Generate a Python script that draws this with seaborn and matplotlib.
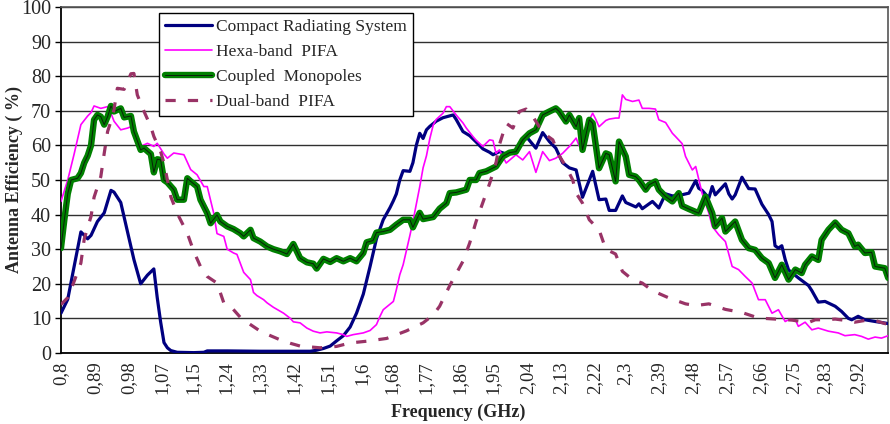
import matplotlib
matplotlib.use("Agg")
import matplotlib.pyplot as plt
import matplotlib.patheffects as pe
import seaborn as sns

# Measured antenna efficiency (%) versus frequency (GHz)
compact_f = [0.800, 0.818, 0.835, 0.853, 0.871, 0.880, 0.897, 0.915, 0.933, 0.941,
             0.959, 0.977, 0.994, 1.012, 1.030, 1.047, 1.056, 1.065, 1.074, 1.083,
             1.092, 1.109, 1.153, 1.180, 1.189, 1.242, 1.330, 1.418, 1.463, 1.480,
             1.498, 1.516, 1.533, 1.551, 1.569, 1.586, 1.604, 1.622, 1.639, 1.657,
             1.675, 1.684, 1.692, 1.701, 1.710, 1.728, 1.736, 1.745, 1.754, 1.763,
             1.772, 1.781, 1.798, 1.816, 1.843, 1.851, 1.869, 1.887, 1.904, 1.922,
             1.940, 1.949, 1.966, 1.984, 2.010, 2.037, 2.063, 2.081, 2.099, 2.116,
             2.134, 2.152, 2.170, 2.187, 2.214, 2.231, 2.249, 2.258, 2.275, 2.293,
             2.302, 2.329, 2.337, 2.346, 2.373, 2.390, 2.408, 2.426, 2.443, 2.470,
             2.488, 2.496, 2.505, 2.523, 2.532, 2.540, 2.567, 2.576, 2.585, 2.593,
             2.611, 2.629, 2.646, 2.664, 2.682, 2.691, 2.699, 2.708, 2.717, 2.726,
             2.735, 2.761, 2.788, 2.797, 2.814, 2.832, 2.859, 2.876, 2.894, 2.903,
             2.920, 2.938, 2.965, 3.000]
compact_eff = [11.5, 15.5, 25.0, 35.0, 33.0, 34.0, 38.0, 40.5, 47.0, 46.5,
               43.5, 35.0, 27.0, 20.0, 22.5, 24.3, 16.0, 9.0, 3.0, 1.5,
               0.7, 0.2, 0.1, 0.2, 0.6, 0.6, 0.5, 0.5, 0.5, 0.8,
               1.3, 2.0, 3.5, 5.0, 7.5, 11.5, 17.0, 25.0, 33.0, 38.5,
               42.0, 44.0, 46.0, 50.0, 52.7, 52.5, 55.0, 60.0, 63.5, 62.0,
               64.5, 65.5, 67.0, 68.0, 68.8, 67.5, 64.0, 62.8, 61.0, 59.0,
               58.0, 57.3, 58.2, 57.5, 58.2, 62.6, 59.2, 63.7, 61.1, 59.2,
               55.0, 53.5, 52.9, 45.0, 52.5, 44.3, 44.5, 41.2, 41.2, 45.4,
               43.5, 42.2, 43.1, 41.7, 43.8, 41.9, 46.0, 45.4, 45.5, 46.2,
               49.8, 47.6, 47.0, 44.8, 48.1, 45.7, 48.9, 46.0, 44.5, 45.7,
               50.8, 47.5, 47.4, 43.0, 40.0, 38.0, 31.0, 30.3, 31.0, 27.0,
               24.0, 21.7, 19.5, 18.0, 14.7, 14.9, 13.5, 12.0, 10.0, 9.6,
               10.6, 9.6, 9.1, 8.5]

hexa_f = [0.800, 0.818, 0.835, 0.853, 0.871, 0.880, 0.888, 0.906, 0.924, 0.933,
          0.941, 0.959, 0.977, 0.986, 1.003, 1.012, 1.030, 1.047, 1.056, 1.074,
          1.083, 1.100, 1.127, 1.145, 1.162, 1.180, 1.189, 1.206, 1.215, 1.233,
          1.242, 1.259, 1.268, 1.286, 1.304, 1.312, 1.321, 1.339, 1.348, 1.365,
          1.392, 1.410, 1.418, 1.436, 1.454, 1.471, 1.489, 1.507, 1.533, 1.551,
          1.560, 1.577, 1.604, 1.622, 1.639, 1.648, 1.657, 1.666, 1.684, 1.692,
          1.701, 1.710, 1.728, 1.736, 1.745, 1.754, 1.763, 1.772, 1.781, 1.790,
          1.798, 1.816, 1.825, 1.834, 1.851, 1.869, 1.878, 1.896, 1.904, 1.922,
          1.940, 1.949, 1.957, 1.966, 1.984, 2.010, 2.028, 2.046, 2.063, 2.081,
          2.099, 2.116, 2.134, 2.152, 2.170, 2.178, 2.196, 2.214, 2.222, 2.231,
          2.249, 2.258, 2.275, 2.284, 2.293, 2.302, 2.320, 2.337, 2.346, 2.364,
          2.381, 2.390, 2.408, 2.426, 2.434, 2.452, 2.461, 2.479, 2.488, 2.505,
          2.523, 2.532, 2.549, 2.567, 2.585, 2.602, 2.620, 2.638, 2.655, 2.673,
          2.691, 2.708, 2.726, 2.735, 2.753, 2.761, 2.779, 2.797, 2.814, 2.841,
          2.867, 2.885, 2.911, 2.929, 2.947, 2.965, 2.982, 3.000]
hexa_eff = [43.8, 50.0, 57.5, 66.0, 68.5, 69.5, 71.4, 70.7, 71.2, 69.3,
            67.0, 64.5, 65.0, 65.4, 61.5, 59.7, 60.6, 59.7, 60.6, 57.5,
            56.3, 57.8, 57.3, 53.0, 51.5, 48.1, 48.1, 40.5, 34.5, 33.7,
            30.0, 28.9, 28.5, 23.3, 21.2, 17.5, 16.6, 15.4, 14.5, 13.2,
            11.5, 10.0, 9.0, 8.7, 7.2, 6.3, 5.8, 6.1, 5.8, 5.3,
            4.8, 5.3, 5.8, 6.5, 8.2, 10.5, 12.5, 13.3, 14.9, 18.3,
            22.6, 25.5, 34.0, 38.0, 43.0, 48.0, 53.5, 57.0, 62.0, 65.9,
            67.5, 69.3, 71.2, 71.2, 68.8, 66.5, 65.0, 62.5, 61.5, 59.7,
            61.6, 61.4, 57.7, 58.7, 54.9, 57.3, 55.8, 58.2, 52.2, 58.2,
            55.6, 56.3, 57.7, 59.7, 62.1, 59.9, 65.4, 69.3, 67.6, 65.4,
            67.2, 67.6, 67.9, 67.9, 74.6, 73.3, 72.7, 73.1, 70.7, 70.7,
            70.5, 67.4, 66.6, 63.5, 62.6, 60.5, 56.8, 52.9, 53.9, 46.2,
            40.4, 36.6, 34.2, 32.2, 25.0, 24.1, 22.1, 20.2, 15.4, 15.4,
            11.5, 12.5, 9.1, 9.6, 9.6, 7.7, 8.9, 6.7, 7.2, 6.3,
            5.8, 5.0, 5.3, 4.8, 4.0, 4.6, 4.3, 5.0]

coupled_f = [0.800, 0.809, 0.818, 0.827, 0.844, 0.853, 0.862, 0.871, 0.880, 0.888,
             0.897, 0.906, 0.915, 0.924, 0.933, 0.941, 0.959, 0.968, 0.986, 0.994,
             1.012, 1.021, 1.039, 1.047, 1.056, 1.065, 1.074, 1.083, 1.100, 1.109,
             1.127, 1.136, 1.145, 1.162, 1.171, 1.189, 1.198, 1.215, 1.224, 1.242,
             1.259, 1.277, 1.286, 1.304, 1.312, 1.330, 1.348, 1.365, 1.383, 1.401,
             1.418, 1.436, 1.454, 1.471, 1.480, 1.498, 1.516, 1.533, 1.551, 1.569,
             1.586, 1.604, 1.613, 1.630, 1.639, 1.657, 1.675, 1.692, 1.710, 1.728,
             1.736, 1.754, 1.763, 1.790, 1.807, 1.825, 1.834, 1.851, 1.878, 1.887,
             1.904, 1.913, 1.931, 1.957, 1.975, 1.993, 2.010, 2.028, 2.046, 2.063,
             2.081, 2.099, 2.116, 2.125, 2.143, 2.152, 2.170, 2.178, 2.187, 2.205,
             2.214, 2.231, 2.249, 2.258, 2.275, 2.284, 2.302, 2.311, 2.328, 2.337,
             2.355, 2.364, 2.381, 2.390, 2.408, 2.426, 2.443, 2.452, 2.470, 2.496,
             2.514, 2.532, 2.540, 2.558, 2.567, 2.593, 2.611, 2.629, 2.646, 2.664,
             2.682, 2.699, 2.717, 2.735, 2.753, 2.770, 2.779, 2.797, 2.814, 2.823,
             2.841, 2.859, 2.876, 2.894, 2.911, 2.920, 2.938, 2.956, 2.965, 2.991,
             3.000]
coupled_eff = [30.3, 38.5, 46.0, 50.0, 50.5, 52.0, 55.0, 57.0, 60.0, 67.4,
               68.8, 68.3, 66.0, 68.3, 71.4, 69.8, 70.7, 68.1, 68.5, 64.0,
               58.7, 59.2, 57.5, 52.2, 56.0, 55.8, 50.0, 49.3, 47.2, 44.3,
               44.3, 50.5, 49.6, 48.1, 44.3, 40.4, 37.5, 39.9, 38.0, 36.6,
               35.8, 34.6, 33.7, 35.6, 33.2, 32.2, 30.8, 30.0, 29.4, 28.6,
               31.5, 27.4, 26.2, 25.8, 24.4, 27.2, 26.3, 27.4, 26.5, 27.4,
               26.5, 28.9, 32.0, 32.5, 34.8, 35.1, 35.6, 37.1, 38.5, 38.5,
               36.3, 40.5, 38.7, 39.3, 41.7, 43.3, 46.2, 46.4, 47.2, 50.0,
               50.0, 52.0, 52.5, 53.9, 56.8, 57.9, 58.2, 61.6, 63.5, 64.5,
               68.8, 69.8, 70.7, 69.8, 66.9, 68.8, 65.4, 67.9, 58.7, 67.4,
               66.4, 53.4, 57.7, 57.3, 49.6, 61.1, 56.8, 51.5, 51.0, 50.0,
               47.2, 48.6, 49.6, 47.2, 45.2, 43.8, 46.2, 42.5, 41.6, 40.4,
               45.2, 40.4, 36.6, 39.0, 35.1, 38.0, 32.7, 30.3, 29.8, 27.4,
               26.0, 21.7, 25.5, 21.2, 24.1, 23.1, 25.5, 27.9, 26.9, 32.7,
               35.6, 37.7, 35.6, 34.6, 30.8, 31.3, 28.9, 29.1, 25.0, 24.5,
               21.7]

dual_f = [0.800, 0.818, 0.835, 0.853, 0.862, 0.880, 0.888, 0.906, 0.915, 0.924,
          0.933, 0.941, 0.950, 0.968, 0.986, 0.994, 1.003, 1.021, 1.039, 1.047,
          1.065, 1.074, 1.092, 1.109, 1.136, 1.153, 1.171, 1.189, 1.215, 1.233,
          1.251, 1.277, 1.304, 1.330, 1.357, 1.383, 1.410, 1.436, 1.489, 1.533,
          1.569, 1.613, 1.666, 1.719, 1.763, 1.790, 1.807, 1.834, 1.869, 1.887,
          1.904, 1.922, 1.940, 1.957, 1.966, 1.984, 2.002, 2.019, 2.037, 2.055,
          2.072, 2.090, 2.108, 2.125, 2.143, 2.161, 2.170, 2.187, 2.205, 2.231,
          2.249, 2.275, 2.293, 2.320, 2.346, 2.373, 2.417, 2.461, 2.488, 2.523,
          2.567, 2.611, 2.655, 2.699, 2.744, 2.788, 2.806, 2.832, 2.859, 2.894,
          2.911, 2.938, 2.965, 2.991, 3.000]
dual_eff = [14.0, 16.0, 20.7, 26.0, 33.0, 39.5, 45.0, 51.0, 57.7, 64.0,
            67.0, 70.3, 76.5, 76.2, 80.7, 80.8, 74.6, 69.8, 65.4, 62.6,
            58.2, 54.9, 45.2, 40.4, 34.6, 29.4, 25.0, 22.1, 20.2, 14.5,
            13.5, 10.3, 8.2, 6.3, 5.0, 3.8, 2.8, 2.0, 1.5, 1.9,
            2.9, 3.4, 4.2, 6.4, 8.7, 11.0, 13.5, 19.5, 26.5, 31.8,
            38.0, 43.5, 49.0, 55.0, 60.2, 66.4, 65.0, 69.8, 70.5, 68.3,
            65.4, 63.0, 61.6, 57.0, 53.9, 50.0, 46.2, 43.3, 38.5, 35.6,
            30.0, 28.6, 23.6, 21.2, 20.2, 18.0, 15.9, 14.2, 13.7, 14.2,
            12.6, 11.7, 10.1, 9.8, 9.5, 8.8, 9.6, 9.6, 9.8, 9.3,
            8.9, 9.4, 9.4, 8.5, 8.3]

freq_tick_labels = ["0,8", "0,89", "0,98", "1,07", "1,15", "1,24", "1,33", "1,42",
                    "1,51", "1,6", "1,68", "1,77", "1,86", "1,95", "2,04", "2,13",
                    "2,22", "2,3", "2,39", "2,48", "2,57", "2,66", "2,75", "2,83",
                    "2,92"]
eff_ticks = [0, 10, 20, 30, 40, 50, 60, 70, 80, 90, 100]

sns.set_theme(style="white")
plt.rcParams["font.family"] = ["Liberation Serif", "DejaVu Serif"]

fig = plt.figure(figsize=(8.9, 4.24), dpi=100)
ax = fig.add_axes([0.0685, 0.1675, 0.9295, 0.816])

sns.lineplot(x=compact_f, y=compact_eff, ax=ax, color="#000080",
             linewidth=2.3, label="Compact Radiating System", zorder=3)
sns.lineplot(x=hexa_f, y=hexa_eff, ax=ax, color="#FF00FF",
             linewidth=1.2, label="Hexa-band  PIFA", zorder=4)
sns.lineplot(x=coupled_f, y=coupled_eff, ax=ax, color="#0a1f0a",
             linewidth=0.7, label="Coupled  Monopoles", zorder=5,
             path_effects=[pe.Stroke(linewidth=4.6, foreground="#008000"),
                           pe.Normal()])
sns.lineplot(x=dual_f, y=dual_eff, ax=ax, color="#993366",
             linewidth=2.3, linestyle=(0, (3.2, 3.8)),
             label="Dual-band  PIFA", zorder=6)

ax.set_xlim(0.8, 3.0)
ax.set_ylim(0, 100)
ax.set_xticks([float(t.replace(",", ".")) for t in freq_tick_labels])
ax.set_xticklabels(freq_tick_labels, rotation=90, fontsize=13.5)
ax.set_yticks(eff_ticks)
ax.set_yticklabels([str(v) for v in eff_ticks], fontsize=14.5)
ax.tick_params(axis="y", direction="out", length=4, width=1, pad=3,
               color="black", left=True)
ax.tick_params(axis="x", length=0, pad=6)

ax.grid(axis="y", color="#303030", linewidth=1.0)
ax.grid(axis="x", visible=False)
ax.set_axisbelow(True)
for side in ("left", "bottom"):
    ax.spines[side].set_color("black")
    ax.spines[side].set_linewidth(1.3)
for side in ("top", "right"):
    ax.spines[side].set_color("#555555")
    ax.spines[side].set_linewidth(1.2)

ax.set_xlabel("Frequency (GHz)", fontsize=13, fontweight="bold")
ax.xaxis.set_label_coords(0.48, -0.147)
ax.set_ylabel("Antenna Efficiency ( %)", fontsize=13, fontweight="bold")
ax.yaxis.set_label_coords(-0.046, 0.5)

leg = ax.legend(loc="upper left", bbox_to_anchor=(0.1185, 0.983),
                borderaxespad=0, fontsize=12.5, frameon=True, fancybox=False,
                edgecolor="black", framealpha=1, handlelength=2.7,
                handletextpad=0.25, labelspacing=0.5, borderpad=0.35)
leg.get_frame().set_linewidth(1.0)

fig.savefig("out.png", dpi=100)
